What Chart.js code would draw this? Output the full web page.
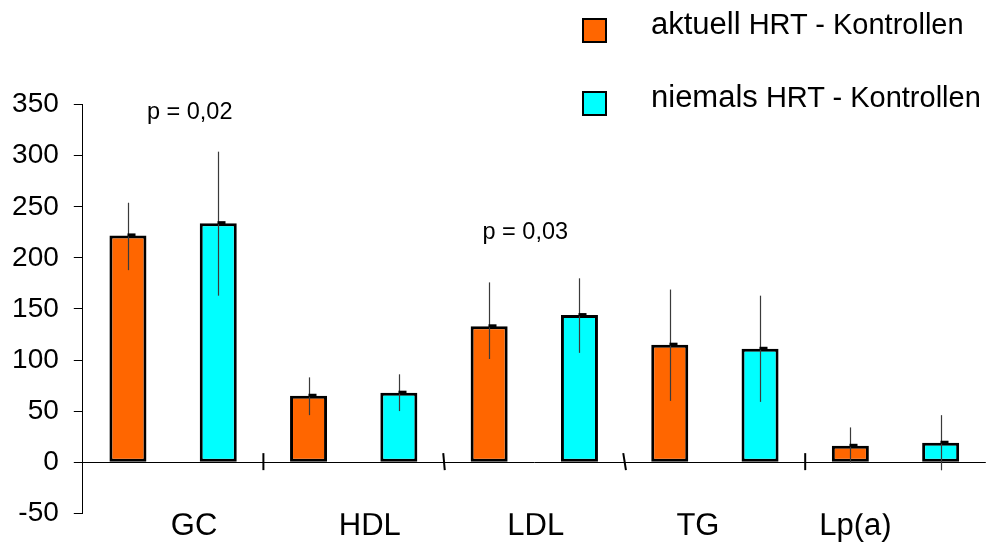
<!DOCTYPE html>
<html>
<head>
<meta charset="utf-8">
<script src="https://cdn.jsdelivr.net/npm/chart.js@4.4.1/dist/chart.umd.min.js"></script>
<style>
html, body { margin: 0; padding: 0; background: #fff; }
#wrap { position: relative; width: 992px; height: 545px; }
#legend { position: absolute; left: 582px; top: 18px; font-family: "Liberation Sans", Arial, sans-serif; color: #000; }
#legend .item { position: relative; height: 73px; }
#legend .box { position: absolute; left: 0; top: 0; width: 21px; height: 21px; border: 2px solid #000; }
#legend .txt { position: absolute; left: 69px; top: -9px; font-size: 29px; line-height: 30px; white-space: nowrap; }
#legend .txt span { font-size: 31px; }
</style>
</head>
<body>
<div id="wrap">
	<canvas id="myChart"></canvas>
	<div id="legend"></div>
</div>
<script>
	// Werte
	var categories = ["GC", "HDL", "LDL", "TG", "Lp(a)"];
	var seriesNames = ["aktuell HRT - Kontrollen", "niemals HRT - Kontrollen"];
	var aktuell = [222, 65, 133, 115, 16];
	var niemals = [234, 68, 144, 111, 19];
	// Fehlerbalken (oberes / unteres Ende)
	var aktuellHigh = [254, 83, 176, 169, 34];
	var aktuellLow = [188, 46, 101, 60, -1];
	var niemalsHigh = [304, 86, 180, 163, 46];
	var niemalsLow = [163, 50, 107, 59, -8];
	var yTicks = [-50, 0, 50, 100, 150, 200, 250, 300, 350];
	// p-Werte
	var pTexts = ["p = 0,02", "p = 0,03"];
	var pCats = ["GC", "LDL"];
	var pLevels = [342, 225];

	var FONT = "'Liberation Sans', Arial, sans-serif";
	// kleine Verschiebungen der Beschriftungen (in Kategorie-Einheiten)
	var labelShift = [0.116, 0.089, 0.008, -0.094, -0.222];
	var pShift = [0.092, -0.05];
	var breakSlant = [0, 1.5, 2.7, 0];

	var highs = [aktuellHigh, niemalsHigh];
	var lows = [aktuellLow, niemalsLow];

	var extras = {
		id: 'extras',
		afterDatasetsDraw: function(chart) {
			var c = chart.ctx, x = chart.scales.x, y = chart.scales.y;
			c.save();
			// Fehlerbalken
			chart.data.datasets.forEach(function(ds, d) {
				var meta = chart.getDatasetMeta(d);
				meta.data.forEach(function(bar, i) {
					var cx = Math.round(bar.x) + 0.5;
					c.strokeStyle = '#3a3a3a';
					c.lineWidth = 1.2;
					c.beginPath();
					c.moveTo(cx, y.getPixelForValue(highs[d][i]));
					c.lineTo(cx, y.getPixelForValue(lows[d][i]));
					c.stroke();
					c.fillStyle = '#000';
					c.fillRect(cx - 1, bar.y - 2, 8, 3);
				});
			});
			// Trennstriche auf der Nulllinie
			var y0 = y.getPixelForValue(0);
			c.strokeStyle = '#000';
			c.lineWidth = 2;
			for (var i = 0; i < categories.length - 1; i++) {
				var bx = x.getPixelForValue(i + 0.5);
				c.beginPath();
				c.moveTo(bx - breakSlant[i] / 2, y0 - 9);
				c.lineTo(bx + breakSlant[i] / 2, y0 + 8);
				c.stroke();
			}
			// p-Werte
			c.fillStyle = '#000';
			c.font = '23.5px ' + FONT;
			c.textAlign = 'center';
			c.textBaseline = 'middle';
			pTexts.forEach(function(t, k) {
				var idx = categories.indexOf(pCats[k]);
				c.fillText(t, x.getPixelForValue(idx + pShift[k]), y.getPixelForValue(pLevels[k]));
			});
			c.restore();
		}
	};

	var ctx = document.getElementById("myChart");
	var myChart = new Chart(ctx, {
		type: 'bar',
		data: {
			labels: categories,
			datasets: [{
				label: seriesNames[0],
				data: aktuell,
				backgroundColor: '#FF6600',
				borderColor: '#000',
				borderWidth: 3,
				borderSkipped: false,
				barPercentage: 0.41,
				categoryPercentage: 1
			}, {
				label: seriesNames[1],
				data: niemals,
				backgroundColor: '#00FFFF',
				borderColor: '#000',
				borderWidth: 3,
				borderSkipped: false,
				barPercentage: 0.41,
				categoryPercentage: 1
			}]
		},
		options: {
			responsive: true,
			maintainAspectRatio: false,
			animation: false,
			layout: { padding: { top: 104.7, right: 6.2, left: 0, bottom: 0 } },
			plugins: {
				legend: { display: false },
				tooltip: { enabled: false }
			},
			scales: {
				x: {
					type: 'category',
					display: false,
					offset: true
				},
				// Achse nur für die Kategorienamen
				xl: {
					type: 'linear',
					axis: 'x',
					position: 'bottom',
					offset: false,
					min: -0.5,
					max: 4.5,
					bounds: 'data',
					afterBuildTicks: function(a) {
						a.ticks = categories.map(function(c, i) { return { value: i + labelShift[i] }; });
						a.min = -0.5;
						a.max = 4.5;
					},
					afterFit: function(a) { a.height = 30.4; a.paddingLeft = 0; a.paddingRight = 0; },
					grid: { display: false, drawTicks: false, offset: false },
					border: { display: false },
					ticks: {
						autoSkip: false,
						maxRotation: 0,
						padding: -5,
						color: '#000',
						font: { size: 31, family: FONT },
						callback: function(v, i) { return categories[i]; }
					}
				},
				y: {
					min: -50,
					max: 350,
					afterBuildTicks: function(a) {
						a.ticks = yTicks.map(function(v) { return { value: v }; });
					},
					afterFit: function(a) { a.width = 82.8; },
					border: { color: '#000', width: 1 },
					grid: {
						color: function(c) { return c.tick && c.tick.value === 0 ? '#000' : 'rgba(0,0,0,0)'; },
						tickColor: '#000',
						tickLength: 9,
						lineWidth: 1
					},
					ticks: {
						padding: 15,
						color: '#000',
						font: { size: 28, family: FONT }
					}
				}
			}
		},
		plugins: [extras]
	});

	// Legende als HTML aus den Datensätzen
	var lg = document.getElementById('legend');
	myChart.data.datasets.forEach(function(ds) {
		var words = ds.label.split(' ');
		var item = document.createElement('div');
		item.className = 'item';
		item.innerHTML = '<div class="box" style="background:' + ds.backgroundColor + '"></div>' +
			'<div class="txt"><span>' + words[0] + '</span> ' + words.slice(1).join(' ') + '</div>';
		lg.appendChild(item);
	});
</script>
</body>
</html>
